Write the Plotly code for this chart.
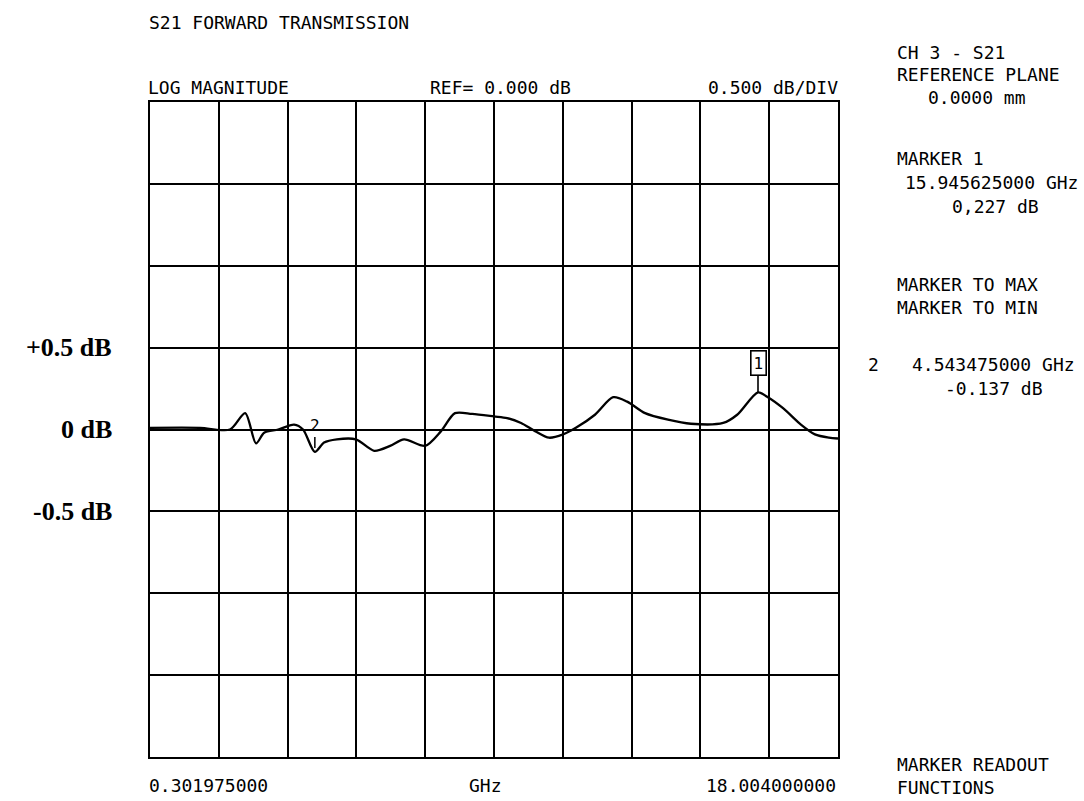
import plotly.graph_objects as go

# Data
freq_ghz = [0.302, 1.59, 2.36, 2.75, 3.03, 3.24, 3.60, 4.01, 4.24, 4.543, 4.78, 5.11, 5.60,
            6.07, 6.48, 6.84, 7.38, 7.79, 8.15, 8.59, 9.15, 9.49, 9.85, 10.21, 10.57, 10.93,
            11.26, 11.75, 12.22, 12.58, 13.04, 13.63, 14.22, 15.05, 15.41, 15.946, 16.18,
            16.59, 17.05, 17.41, 17.77, 18.004]
s21_db = [0.01, 0.01, 0.0, 0.10, -0.085, -0.02, 0.0, 0.03, 0.0, -0.137, -0.08, -0.06, -0.06,
          -0.13, -0.10, -0.06, -0.10, -0.01, 0.10, 0.095, 0.08, 0.07, 0.04, -0.01, -0.05, -0.03,
          0.01, 0.09, 0.197, 0.17, 0.10, 0.06, 0.035, 0.04, 0.09, 0.227, 0.20,
          0.13, 0.03, -0.03, -0.05, -0.055]

x_start = 0.301975
x_stop = 18.004
x_div = (x_stop - x_start) / 10
y_div = 0.5
y_labels = ["+0.5 dB", "0 dB", "-0.5 dB"]
y_label_vals = [0.5, 0.0, -0.5]

marker1 = (15.945625, 0.227)
marker2 = (4.543475, -0.137)

MONO = "DejaVu Sans Mono"
FS = 18
fig = go.Figure()
fig.add_trace(go.Scatter(x=freq_ghz, y=s21_db, mode="lines",
                         line=dict(color="black", width=2.3, shape="spline", smoothing=0.8),
                         hoverinfo="skip", showlegend=False))

fig.update_xaxes(range=[x_start, x_stop], tick0=x_start, dtick=x_div, showgrid=True,
                 gridcolor="black", gridwidth=2, showticklabels=False, ticks="",
                 showline=True, linecolor="black", linewidth=2, mirror=True, zeroline=False)
fig.update_yaxes(range=[-2, 2], tick0=0, dtick=y_div, showgrid=True,
                 gridcolor="black", gridwidth=2, showticklabels=False, ticks="",
                 showline=True, linecolor="black", linewidth=2, mirror=True, zeroline=False)

ann = []
def txt(x, y, s, anchor="left", size=FS, font=MONO, yanchor="middle"):
    ann.append(dict(x=x, y=y, xref="paper", yref="paper", text=s, showarrow=False,
                    xanchor=anchor, yanchor=yanchor, align="left",
                    font=dict(family=font, size=size, color="black")))

W, H = 1084, 801
L, R, T, B = 150, 838, 102, 757
def px(xp):
    return (xp - L) / (R - L)
def py(yp):
    return (B - yp) / (B - T)

txt(px(147), py(22), "S21 FORWARD TRANSMISSION")
txt(px(146), py(88), "LOG MAGNITUDE")
txt(px(428), py(88), "REF= 0.000 dB")
txt(px(840), py(88), "0.500 dB/DIV", anchor="right")
txt(px(895), py(52), "CH 3 - S21")
txt(px(895), py(74), "REFERENCE PLANE")
txt(px(926), py(98), "0.0000 mm")
txt(px(895), py(158), "MARKER 1")
txt(px(903), py(182), "15.945625000 GHz")
txt(px(950), py(206), "0,227 dB")
txt(px(895), py(284), "MARKER TO MAX")
txt(px(895), py(307), "MARKER TO MIN")
txt(px(866), py(364), "2")
txt(px(910), py(364), "4.543475000 GHz")
txt(px(943), py(388), "-0.137 dB")
txt(px(895), py(800), "MARKER READOUT<br>FUNCTIONS", yanchor="bottom")
txt(px(147), py(785), "0.301975000")
txt(px(485), py(785), "GHz", anchor="center")
txt(px(838), py(785), "18.004000000", anchor="right")

for s, v in zip(y_labels, y_label_vals):
    ann.append(dict(x=px(114), y=v, xref="paper", yref="y", text="<b>%s</b>" % s,
                    showarrow=False, xanchor="right", yanchor="middle",
                    font=dict(family="Liberation Serif", size=26, color="black")))

# marker annotations
ann.append(dict(x=marker1[0], y=marker1[1], xref="x", yref="y", text="1",
                showarrow=True, arrowhead=0, arrowwidth=1.6, arrowcolor="black",
                ax=0, ay=-29, bordercolor="black", borderwidth=1.6, borderpad=2,
                bgcolor="white", font=dict(family=MONO, size=16, color="black")))
ann.append(dict(x=marker2[0], y=marker2[1], xref="x", yref="y", text="2",
                showarrow=True, arrowhead=0, arrowwidth=1.5, arrowcolor="black",
                ax=0, ay=-26, standoff=4,
                font=dict(family=MONO, size=16, color="black")))

fig.update_layout(width=W, height=H, margin=dict(l=L, r=W - R, t=T, b=H - B),
                  paper_bgcolor="white", plot_bgcolor="white", annotations=ann,
                  showlegend=False)

fig.write_html("out.html", config={"displayModeBar": False},
               post_script="document.body.style.margin='0';document.body.style.overflow='hidden';")
